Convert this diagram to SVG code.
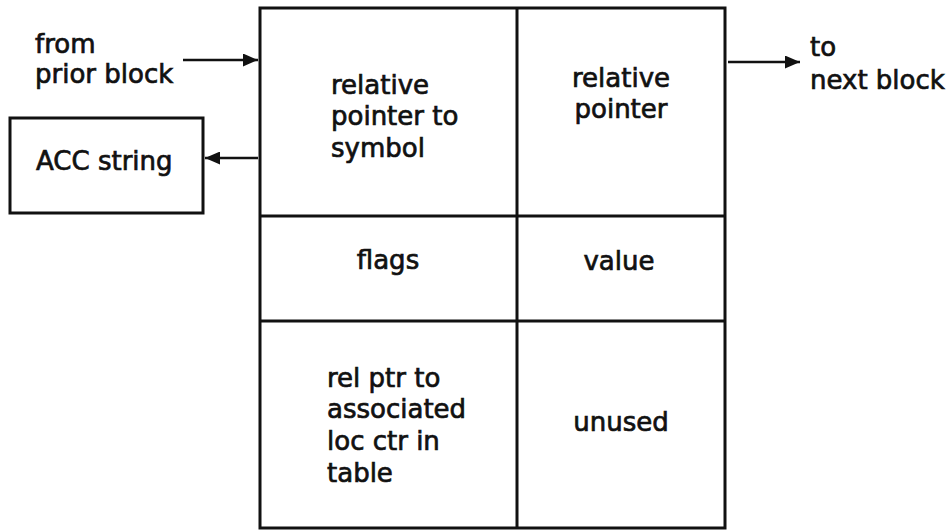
<svg xmlns="http://www.w3.org/2000/svg" width="951" height="531" viewBox="0 0 951 531">
<defs>
<style>
.t{font-family:"DejaVu Sans","Liberation Sans",sans-serif;font-size:26px;fill:#111;stroke:#111;stroke-width:0.7}
.c{text-anchor:middle}
.box{fill:#fff;stroke:#111;stroke-width:3}
.ln{stroke:#111;stroke-width:3;fill:none}
.ar{stroke:#111;stroke-width:2.5;fill:none}
</style>
<marker id="ah" viewBox="0 0 15 13" refX="15" refY="6.5" markerWidth="15" markerHeight="13" markerUnits="userSpaceOnUse" orient="auto">
<path d="M0,0 L15,6.5 L0,13 Z" fill="#111"/>
</marker>
</defs>
<rect width="951" height="531" fill="#fff"/>
<g id="block">
<rect class="box" x="260" y="8" width="465" height="520"/>
<line class="ln" x1="517" y1="8" x2="517" y2="528"/>
<line class="ln" x1="260" y1="216" x2="725" y2="216"/>
<line class="ln" x1="260" y1="321" x2="725" y2="321"/>
</g>
<g id="cell-symbol">
<text class="t" x="331" y="94">relative</text>
<text class="t" x="331" y="125">pointer to</text>
<text class="t" x="331" y="157">symbol</text>
</g>
<g id="cell-pointer">
<text class="t c" x="621" y="87">relative</text>
<text class="t c" x="621" y="118">pointer</text>
</g>
<g id="cell-flags">
<text class="t c" x="388" y="269">flags</text>
</g>
<g id="cell-value">
<text class="t c" x="619" y="270">value</text>
</g>
<g id="cell-locctr">
<text class="t" x="327" y="387">rel ptr to</text>
<text class="t" x="327" y="418">associated</text>
<text class="t" x="327" y="450">loc ctr in</text>
<text class="t" x="327" y="482">table</text>
</g>
<g id="cell-unused">
<text class="t c" x="621" y="431">unused</text>
</g>
<g id="acc">
<rect class="box" x="10" y="118" width="193" height="95"/>
<text class="t" x="36" y="170">ACC string</text>
</g>
<g id="prior-label">
<text class="t" x="35" y="53">from</text>
<text class="t" x="35" y="83">prior block</text>
</g>
<g id="next-label">
<text class="t" x="810" y="56">to</text>
<text class="t" x="810" y="89">next block</text>
</g>
<g id="connectors">
<line class="ar" x1="183" y1="60" x2="258" y2="60" marker-end="url(#ah)"/>
<line class="ar" x1="258" y1="158" x2="205" y2="158" marker-end="url(#ah)"/>
<line class="ar" x1="728" y1="62" x2="800" y2="62" marker-end="url(#ah)"/>
</g>
</svg>
